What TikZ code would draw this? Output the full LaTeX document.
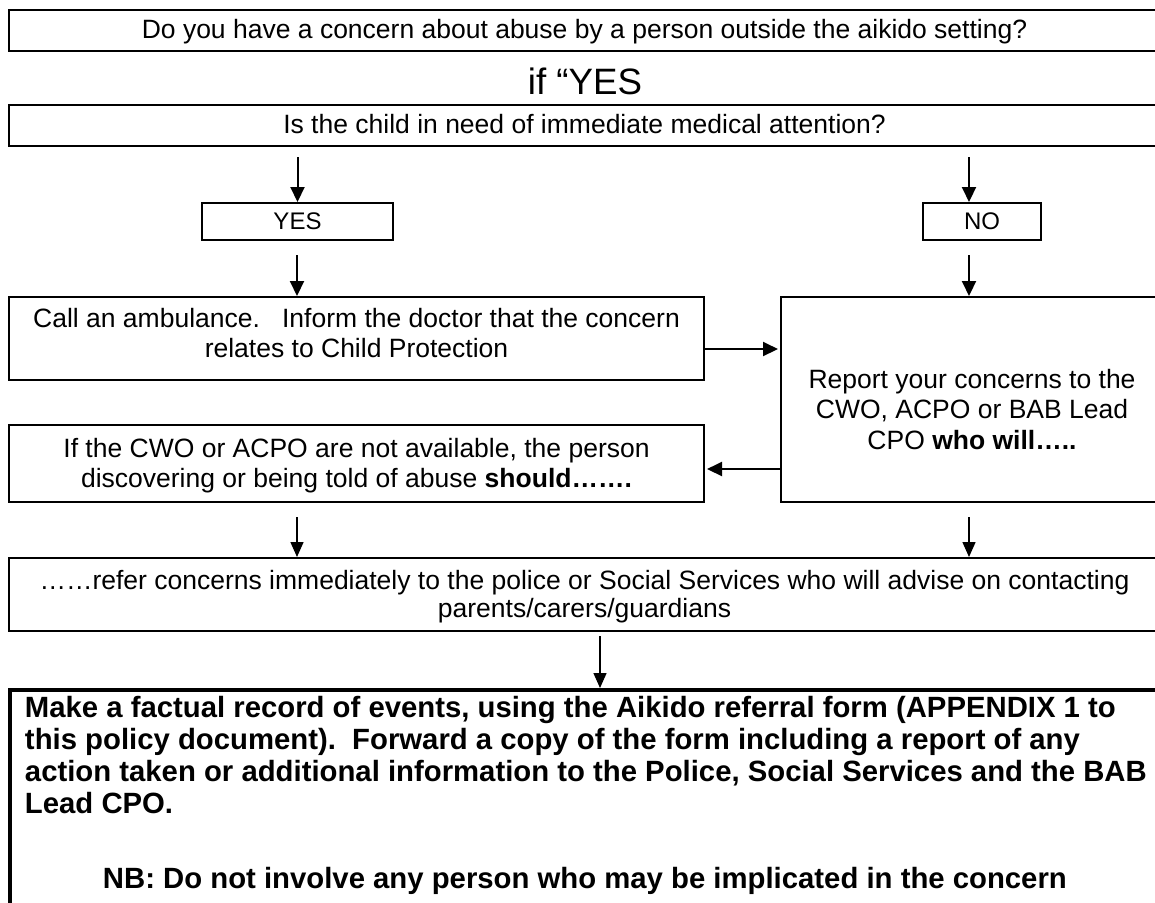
\documentclass[tikz,border=0pt]{standalone}
\usepackage{fontspec}
\setmainfont{Liberation Sans}
\usetikzlibrary{arrows.meta}
\newcommand{\basefnt}{\fontsize{13.25}{15.25}\selectfont}
\newcommand{\smallfnt}{\fontsize{12}{14}\selectfont}
\newcommand{\bx}[5]{\parbox[c][#2][t]{#1}{#4\centering\rule{0pt}{#3}#5}}
\tikzset{
  box/.style={draw, line width=1pt, inner sep=0pt},
  arr/.style={line width=1pt, -{Triangle[length=7.5pt,width=7pt]}},
  thinarr/.style={line width=0.7pt, -{Triangle[length=7.5pt,width=6.5pt]}},
}
\begin{document}
\begin{tikzpicture}[x=0.5pt,y=-0.5pt]
\useasboundingbox (0,0) rectangle (1155,902);
\fill[white] (0,0) rectangle (1155,902);
\clip (0,0) rectangle (1155,902);

\node[box] (t1) at (584.5,30.5) {\bx{575.5pt}{20.5pt}{14pt}{\basefnt}{Do you have a concern about abuse by a person outside the aikido setting?}};
\node[anchor=base, inner sep=0pt] (ifyes) at (585,94) {\fontsize{18.35}{22}\selectfont if “YES};
\node[box] (q) at (584.5,125.5) {\bx{575.5pt}{20.5pt}{14pt}{\basefnt}{Is the child in need of immediate medical attention?}};
\node[box] (yes) at (297.5,221.5) {\bx{95.5pt}{18.5pt}{13pt}{\smallfnt}{YES}};
\node[box] (no) at (982,221.5) {\bx{59pt}{18.5pt}{13pt}{\smallfnt}{NO}};
\node[box] (call) at (356.5,338.5) {\bx{347.5pt}{41.5pt}{15pt}{\basefnt}{Call an ambulance.\ \ \ Inform the doctor that the concern\\relates to Child Protection}};
\node[box] (rep) at (972,399.5) {\bx{191pt}{102.5pt}{45.5pt}{\basefnt}{Report your concerns to the\\CWO, ACPO or BAB Lead\\CPO \textbf{who will…..}}};
\node[box] (ifb) at (356.5,463.5) {\bx{347.5pt}{38.5pt}{16pt}{\basefnt}{If the CWO or ACPO are not available, the person\\discovering or being told of abuse \textbf{should…….}}};
\node[box] (refer) at (584.5,594.5) {\bx{575.5pt}{36.5pt}{15.5pt}{\fontsize{13.25}{14.25}\selectfont}{……refer concerns immediately to the police or Social Services who will advise on contacting\\parents/carers/guardians}};
\node[box, line width=2pt] (bot) at (590,805) {\parbox[c][115pt][t]{580pt}{\fontsize{14.65}{16}\selectfont\bfseries\raggedright\leftskip=7.5pt\rule{0pt}{13.5pt}Make a factual record of events, using the Aikido referral form (APPENDIX 1 to\\this policy document).\ \ Forward a copy of the form including a report of any\\action taken or additional information to the Police, Social Services and the BAB\\Lead CPO.\\[21.5pt]\hspace*{39pt}NB: Do not involve any person who may be implicated in the concern}};

\coordinate (s1) at (297.5,157);
\coordinate (s2) at (969,157);
\coordinate (s3) at (297,255);
\coordinate (s4) at (969,255);
\coordinate (s7) at (297,517);
\coordinate (s8) at (969,517);
\coordinate (s9) at (600,636);

\draw[arr] (s1) -- (yes.north);
\draw[arr] (s2) -- (s2 |- no.north);
\draw[arr] (s3) -- (s3 |- call.north);
\draw[arr] (s4) -- (s4 |- rep.north);
\draw[arr, shorten >=1pt] ([yshift=-5.25pt]call.east) -- ([yshift=-5.25pt]call.east -| rep.west);
\draw[arr, shorten >=1pt] ([yshift=-34.75pt]rep.west) -- ([yshift=-34.75pt]rep.west -| ifb.east);
\draw[thinarr] (s7) -- (s7 |- refer.north);
\draw[thinarr] (s8) -- (s8 |- refer.north);
\draw[thinarr] (s9) -- (s9 |- bot.north);
\end{tikzpicture}
\end{document}
